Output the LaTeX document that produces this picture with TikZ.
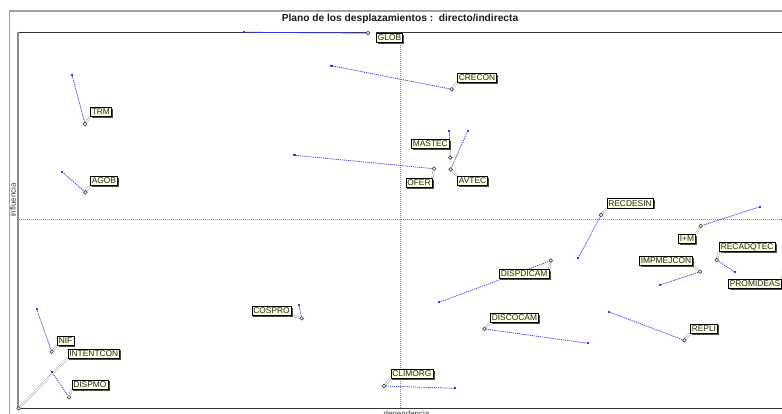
\documentclass[tikz,border=0pt]{standalone}
\usepackage{fontspec}
\setmainfont{Liberation Sans}
\usetikzlibrary{shadows}
\definecolor{tipfill}{RGB}{255,255,225}
\definecolor{shiftblue}{RGB}{55,55,225}
\definecolor{framegray}{RGB}{160,160,160}
\pgfdeclarelayer{bg}
\pgfdeclarelayer{wires}
\pgfsetlayers{bg,wires,main}
\tikzset{
  tag/.style={anchor=north west, draw=black, line width=0.6pt, fill=tipfill,
    text=black!85, font=\fontsize{8.4}{10}\selectfont,
    inner xsep=1.5pt, inner ysep=1.5pt, text height=6.1pt, text depth=0pt,
    drop shadow={shadow xshift=1.6pt, shadow yshift=-1.6pt, fill=black!70, opacity=1}},
  endpt/.style={circle, draw=black!70, fill=white, line width=0.7pt,
    inner sep=0pt, minimum size=3.6pt},
  startpt/.style={rectangle, fill=shiftblue, inner sep=0pt, minimum size=2.3pt},
  drift/.style={draw=shiftblue, line width=0.75pt, dash pattern=on 1.2pt off 0.9pt},
  tie/.style={draw=black!40, double=white, double distance=1.2pt, line width=0.45pt},
  guide/.style={draw=black!45, line width=0.6pt, dash pattern=on 1pt off 1pt},
}
\begin{document}
\begin{tikzpicture}[x=1pt,y=-1pt]
\useasboundingbox (0,0) rectangle (782,414);

% frame, axes and guide lines
\begin{pgfonlayer}{bg}
  \node[rotate=90, anchor=base, inner sep=0pt, font=\fontsize{8}{9.6}\selectfont, text=black!75] (ylab) at (15.8,200) {influencia};
  \draw[framegray, line width=1.2pt] (9.5,414) -- (9.5,11) -- (782,11);
  \draw[black!80, line width=0.8pt] (17,32.3) -- (782,32.3);
  \draw[black!80, line width=0.8pt] (17,408.3) -- (782,408.3);
  \draw[black!45, line width=2pt] (17.5,32) -- (17.5,409);
  \draw[guide] (400.3,33) -- (400.3,408);
  \draw[guide, line width=1pt] (18.5,219.5) -- (782,219.5);
\end{pgfonlayer}

\node[anchor=base, font=\fontsize{10.2}{12}\selectfont\bfseries, text=black!90] (title) at (400,21.5) {Plano de los desplazamientos :\ \ directo/indirecta};
\node[anchor=north, inner sep=0pt, font=\fontsize{8}{9.6}\selectfont, text=black!75] (xlab) at (406.5,410.6) {dependencia};

% start points
\node[startpt] (s-glob) at (244,32.3) {};
\node[startpt] (s-crecon) at (331.5,65.7) {};
\node[startpt] (s-trm) at (72,74.7) {};
\node[startpt] (s-mastec) at (449.3,131) {};
\node[startpt] (s-avtec) at (467.7,131) {};
\node[startpt] (s-ofer) at (294.5,155.3) {};
\node[startpt] (s-agob) at (62.3,172) {};
\node[startpt] (s-recdesin) at (578.3,257.7) {};
\node[startpt] (s-im) at (760,206.7) {};
\node[startpt] (s-recadqtec) at (735,272.3) {};
\node[startpt] (s-impmejcon) at (660,285) {};
\node[startpt] (s-dispdicam) at (439.3,302.3) {};
\node[startpt] (s-discocam) at (588.3,343.3) {};
\node[startpt] (s-repli) at (609,312) {};
\node[startpt] (s-climorg) at (455.3,388.3) {};
\node[startpt] (s-cospro) at (299,305) {};
\node[startpt] (s-nif) at (36.7,309.3) {};
\node[startpt] (s-dispmo) at (51.7,371.7) {};

% end points
\node[endpt] (m-glob) at (368,33) {};
\node[endpt] (m-crecon) at (451.7,89.3) {};
\node[endpt] (m-trm) at (85,124) {};
\node[endpt] (m-mastec) at (450.3,157.7) {};
\node[endpt] (m-avtec) at (450.7,169.3) {};
\node[endpt] (m-ofer) at (434,168.7) {};
\node[endpt] (m-agob) at (85.3,192.3) {};
\node[endpt] (m-recdesin) at (601,215) {};
\node[endpt] (m-im) at (700.7,226) {};
\node[endpt] (m-recadqtec) at (716.7,260) {};
\node[endpt] (m-impmejcon) at (700,271.7) {};
\node[endpt] (m-promideas) at (784,271) {};
\node[endpt] (m-dispdicam) at (550.7,260.7) {};
\node[endpt] (m-discocam) at (484.3,329) {};
\node[endpt] (m-repli) at (684.3,340.3) {};
\node[endpt] (m-climorg) at (384,386) {};
\node[endpt] (m-cospro) at (301.7,318.3) {};
\node[endpt] (m-nif) at (51.7,351.7) {};
\node[endpt] (m-intentcon) at (18.7,408.3) {};
\node[endpt] (m-dispmo) at (69,397.3) {};

% labels
\node[tag] (l-glob) at (376,33) {GLOB};
\node[tag] (l-crecon) at (457,73) {CRECON};
\node[tag] (l-trm) at (90,107) {TRM};
\node[tag] (l-mastec) at (411,139) {MASTEC};
\node[tag] (l-avtec) at (457,176) {AVTEC};
\node[tag] (l-ofer) at (405.5,178) {OFER};
\node[tag] (l-agob) at (90,176) {AGOB};
\node[tag] (l-recdesin) at (606.5,198.5) {RECDESIN};
\node[tag] (l-im) at (678,234) {I+M};
\node[tag] (l-recadqtec) at (719,242) {RECADQTEC};
\node[tag] (l-impmejcon) at (639,256) {IMPMEJCON};
\node[tag] (l-promideas) at (728,279) {PROMIDEAS};
\node[tag] (l-dispdicam) at (499,269) {DISPDICAM};
\node[tag] (l-discocam) at (490,313) {DISCOCAM};
\node[tag] (l-repli) at (690,323.5) {REPLI};
\node[tag] (l-climorg) at (390.5,369) {CLIMORG};
\node[tag] (l-cospro) at (251.5,306) {COSPRO};
\node[tag] (l-nif) at (57,336) {NIF};
\node[tag] (l-intentcon) at (67.5,348.5) {INTENTCON};
\node[tag] (l-dispmo) at (71.5,379.5) {DISPMO};

% displacements and label ties
\begin{pgfonlayer}{wires}
  \draw[draw=shiftblue, line width=0.8pt] (s-glob) -- (m-glob);
  \foreach \v in {crecon,trm,mastec,avtec,ofer,agob,recdesin,im,recadqtec,impmejcon,dispdicam,discocam,repli,climorg,cospro,nif,dispmo}
    \draw[drift] (s-\v) -- (m-\v);
  \draw[tie] (m-glob) -- (l-glob.north west);
  \draw[tie] (m-crecon) -- (l-crecon.south west);
  \draw[tie] (m-trm) -- (l-trm.south west);
  \draw[tie] (m-mastec) -- (l-mastec.south east);
  \draw[tie] (m-avtec) -- (l-avtec.north west);
  \draw[tie] (m-ofer) -- (l-ofer.north east);
  \draw[tie] (m-agob) -- (l-agob.south west);
  \draw[tie] (m-recdesin) -- (l-recdesin.south west);
  \draw[tie] (m-im) -- (l-im.north east);
  \draw[tie] (m-recadqtec) -- (l-recadqtec.south west);
  \draw[tie] (m-impmejcon) -- (l-impmejcon.south east);
  \draw[tie] (m-promideas) -- (l-promideas.north east);
  \draw[tie] (m-dispdicam) -- (l-dispdicam.north east);
  \draw[tie] (m-discocam) -- (l-discocam.south west);
  \draw[tie] (m-repli) -- (l-repli.south west);
  \draw[tie] (m-climorg) -- (l-climorg.south west);
  \draw[tie] (m-cospro) -- (l-cospro.south east);
  \draw[tie] (m-nif) -- (l-nif.south west);
  \draw[tie] (m-intentcon) -- (l-intentcon.south west);
  \draw[tie] (m-dispmo) -- (l-dispmo.south west);
\end{pgfonlayer}
\end{tikzpicture}
\end{document}
